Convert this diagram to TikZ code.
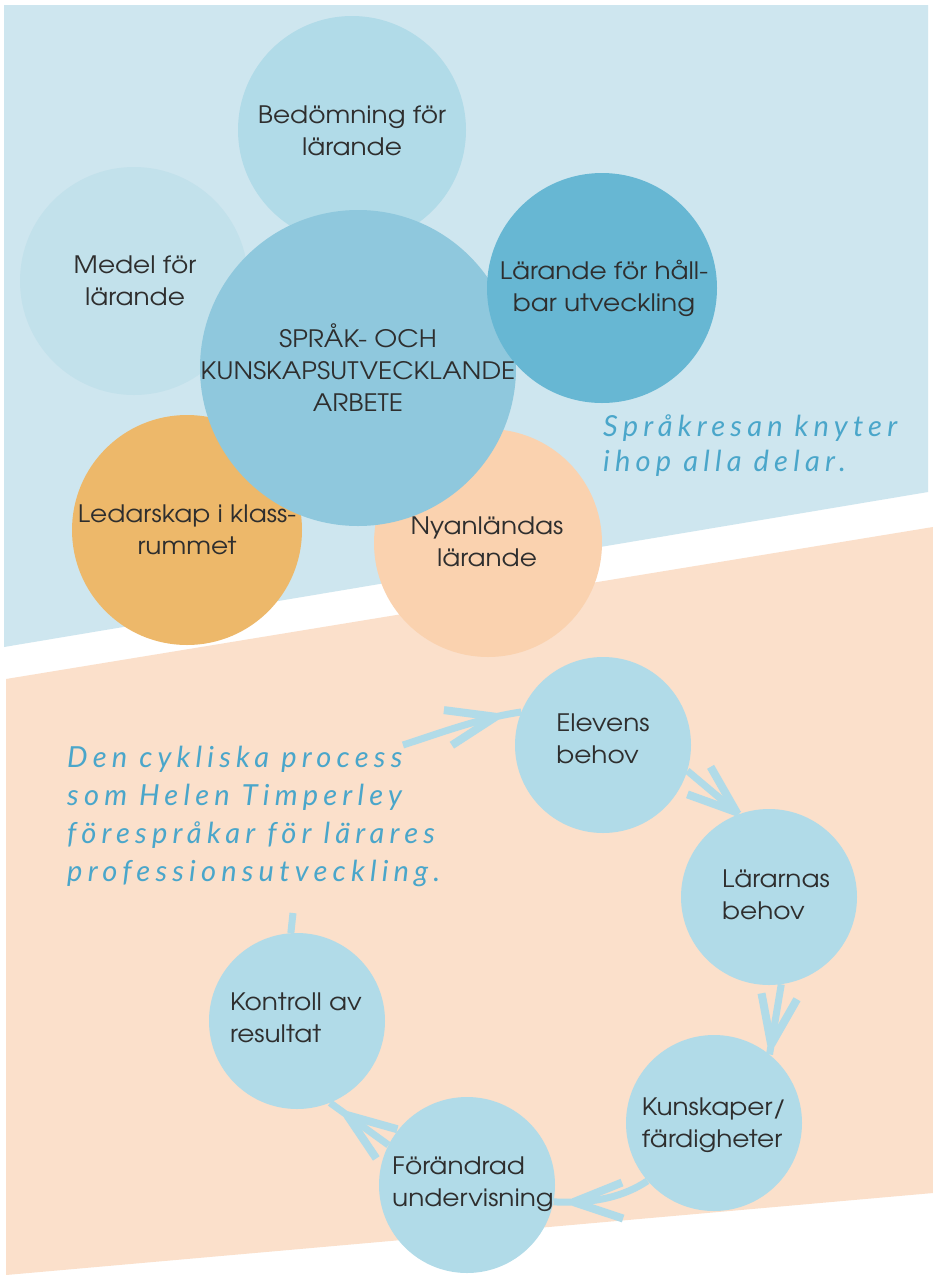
\documentclass[tikz,border=0pt]{standalone}
\usepackage{fontspec}
\setmainfont{TeX Gyre Adventor}[FakeStretch=1.1]
\newfontfamily\hand{Lato}[LetterSpace=18]
\usetikzlibrary{decorations.markings}
\definecolor{bgblue}{HTML}{CEE6EF}
\definecolor{bgpeach}{HTML}{FBE0CB}
\definecolor{cmedel}{HTML}{C2E1EB}
\definecolor{clight}{HTML}{B1DBE8}
\definecolor{ccentral}{HTML}{8FC8DD}
\definecolor{cdark}{HTML}{67B7D3}
\definecolor{corange}{HTML}{EDB86A}
\definecolor{cpeach}{HTML}{FAD2AF}
\definecolor{chand}{HTML}{4AA6CA}
\definecolor{ctext}{HTML}{2E2E2E}
\tikzset{
  disc/.style={circle, inner sep=0pt, minimum size=#1},
  lbl/.style={align=center, text=ctext, font=\fontsize{24}{32}\selectfont, inner sep=0pt},
  lbll/.style={align=left, text=ctext, font=\fontsize{24}{32}\selectfont, inner sep=0pt},
  handtxt/.style={align=left, text=chand, inner sep=0pt, anchor=north west},
  conn/.style={draw=clight, line width=7pt},
  tipat/.style={decoration={markings, mark=at position #1 with {\draw[clight, line width=8pt, line join=bevel] (-49pt,18pt)--(0pt,0pt)--(-49pt,-18pt);}}, postaction={decorate}},
}
\begin{document}
\begin{tikzpicture}[x=1pt,y=-1pt]
\fill[white] (0,0) rectangle (933,1275);
\useasboundingbox (0,0) rectangle (933,1275);
% backgrounds
\fill[bgblue] (4,5) -- (928,5) -- (928,492) -- (4,647) -- cycle;
\fill[bgpeach] (6,679) -- (933,527) -- (933,1193) -- (6,1275) -- cycle;
% top circles
\node[disc=228pt, fill=cmedel] (medel) at (134,281) {};
\node[disc=228pt, fill=clight] (bed) at (352,130) {};
\node[disc=230pt, fill=corange] (led) at (187,530) {};
\node[disc=228pt, fill=cpeach] (nya) at (488,543) {};
\node[disc=316pt, fill=ccentral] (spr) at (358,368) {};
\node[disc=230pt, fill=cdark] (hal) at (602,288) {};
% top labels
\node[lbl] (tbed) at (352,131) {Bedömning för\\lärande};
\node[lbl] (tmedel) at (135,281) {Medel för\\lärande};
\node[lbl] (thal) at (604,288) {Lärande för håll-\\bar utveckling};
\node[lbl] (tspr) at (358,368) {SPRÅK- OCH\\KUNSKAPSUTVECKLANDE\\ARBETE};
\node[lbl] (tled) at (187,530) {Ledarskap i klass-\\rummet};
\node[lbl] (tnya) at (487,542) {Nyanländas\\lärande};
% lower circles
\node[disc=176pt, fill=clight] (el) at (603,745) {};
\node[disc=176pt, fill=clight] (lar) at (769,897) {};
\node[disc=176pt, fill=clight] (kun) at (714,1123) {};
\node[disc=176pt, fill=clight] (for) at (467,1185) {};
\node[disc=176pt, fill=clight] (kon) at (297,1021) {};
\node[lbll] (tel) at (603,739) {Elevens\\behov};
\node[lbll] (tlar) at (776,895) {Lärarnas\\behov};
\node[lbll] (tkun) at (714,1125) {Kunskaper/\\färdigheter};
\node[lbll] (tfor) at (473,1184) {Förändrad\\undervisning};
\node[lbll] (tkon) at (296,1018) {Kontroll av\\resultat};
% connectors
\coordinate (start) at (403,745);
\coordinate (stub) at (293,913);
\draw[conn, tipat=-26pt] (start) .. controls (440,733) and (480,718) .. (el.158);
\draw[conn, tipat=-3pt] (el.-17) -- (lar.110);
\draw[conn, tipat=-10pt] (lar.-82) -- (kun.51);
\draw[conn, tipat=-20pt] (kun.221) .. controls (625,1196) and (595,1204) .. (for.-11);
\draw[conn, tipat=-21pt] (for.153) -- (kon.-68);
\draw[conn] (kon.94) -- (stub);
% handwritten texts
\node[handtxt, font=\hand\itshape\fontsize{29}{35}\selectfont] (h1) at (603,415) {Språkresan knyter\\ihop alla delar.};
\node[handtxt, font=\hand\itshape\fontsize{29}{38}\selectfont] (h2) at (67,746) {Den cykliska process\\som Helen Timperley\\förespråkar för lärares\\professionsutveckling.};
\end{tikzpicture}
\end{document}
